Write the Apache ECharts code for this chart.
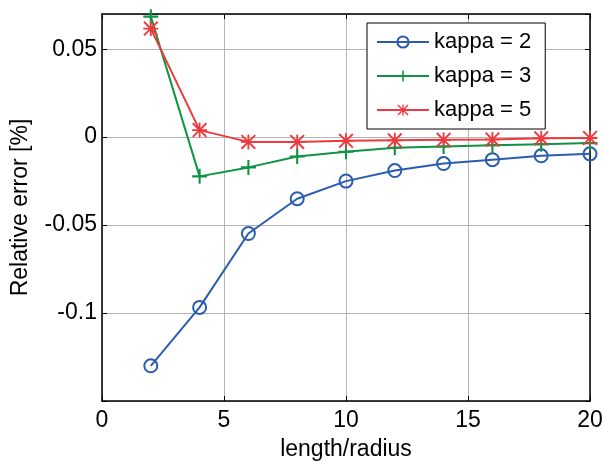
<!DOCTYPE html>
<html>
<head>
    <meta charset="utf-8">
    <title>Relative error</title>
    <script src="https://cdn.jsdelivr.net/npm/echarts@6/dist/echarts.min.js"></script>
</head>
<body style="margin:0; background:#fff;">
    <div id="main" style="width: 603px; height: 461px;"></div>
    <script>
        // 数据
        var lengthRadius = [2, 4, 6, 8, 10, 12, 14, 16, 18, 20]
        var kappa2 = [-0.130, -0.0968, -0.0548, -0.0350, -0.0250, -0.0190, -0.0150, -0.0128, -0.0106, -0.0095]
        var kappa3 = [0.0685, -0.0223, -0.0172, -0.0110, -0.0083, -0.0060, -0.0053, -0.0046, -0.0040, -0.0034]
        var kappa5 = [0.0617, 0.0040, -0.0027, -0.0027, -0.0021, -0.0018, -0.0015, -0.0013, -0.0007, -0.0005]
        var seriesNames = ['kappa = 2', 'kappa = 3', 'kappa = 5']
        var yTickLabels = ['-0.1', '-0.05', '0', '0.05']

        var font = 'Liberation Sans, Arial, sans-serif'
        var plusPath = 'path://M4.3,0H5.7V10H4.3Z M0,4.3H10V5.7H0Z'
        var starPath = 'path://M4.4,0H5.6V10H4.4Z M0,4.4H10V5.6H0Z M0.9,0L10,9.1L9.1,10L0,0.9Z M9.1,0L10,0.9L0.9,10L0,9.1Z'

        var pairs = function(ys) {
            return lengthRadius.map(function(x, i) { return [x, ys[i]] })
        }

        var yLabel = function(v) {
            var s = String(Math.round(v * 100) / 100)
            return yTickLabels.indexOf(s) >= 0 ? s : ''
        }

        var myChart = echarts.init(document.querySelector('#main'))
        var gridLine = {show: true, lineStyle: {color: '#b4b4b4', width: 1}}
        var boxLine = {onZero: false, lineStyle: {color: '#000', width: 1.5}}
        var tick = {inside: true, length: 5, lineStyle: {color: '#000'}}
        var option = {
            animation: false,
            textStyle: {fontFamily: font},
            grid: {left: 102, right: 13, top: 14, bottom: 60, outerBoundsMode: 'none', containLabel: false},
            legend: {
                data: seriesNames,
                orient: 'vertical',
                left: 367,
                top: 23,
                padding: [8, 14, 8, 9],
                itemGap: 12,
                itemWidth: 52,
                itemHeight: 14,
                backgroundColor: '#fff',
                borderColor: '#000',
                borderWidth: 1,
                textStyle: {fontSize: 22, color: '#000', fontFamily: font}
            },
            xAxis: [{
                type: 'value', min: 0, max: 20, interval: 5,
                name: 'length/radius', nameLocation: 'middle', nameGap: 37,
                nameTextStyle: {fontSize: 23, color: '#000'},
                axisLine: boxLine,
                axisTick: tick,
                axisLabel: {fontSize: 23, color: '#000', margin: 8},
                splitLine: gridLine
            }, {
                type: 'value', min: 0, max: 20, interval: 5, position: 'top',
                axisLine: boxLine,
                axisTick: tick,
                axisLabel: {show: false},
                splitLine: {show: false}
            }],
            yAxis: [{
                type: 'value', min: -0.15, max: 0.07, interval: 0.05,
                name: 'Relative error [%]', nameLocation: 'middle', nameGap: 70,
                nameTextStyle: {fontSize: 23, color: '#000'},
                axisLine: boxLine,
                axisTick: tick,
                axisLabel: {fontSize: 23, color: '#000', margin: 5, formatter: yLabel,
                    showMinLabel: true, showMaxLabel: false},
                splitLine: gridLine
            }, {
                type: 'value', min: -0.15, max: 0.07, interval: 0.05, position: 'right',
                axisLine: {show: true, onZero: false, lineStyle: {color: '#000', width: 1.5}},
                axisTick: {show: true, inside: true, length: 5, lineStyle: {color: '#000'}},
                axisLabel: {show: false},
                splitLine: {show: false}
            }],
            series: [{
                name: seriesNames[0], type: 'line', data: pairs(kappa2),
                symbol: 'circle', symbolSize: 13,
                color: '#2a5db0',
                lineStyle: {width: 2, color: '#2a5db0'},
                itemStyle: {color: 'transparent', borderColor: '#2a5db0', borderWidth: 2}
            }, {
                name: seriesNames[1], type: 'line', data: pairs(kappa3),
                symbol: plusPath, symbolSize: 15,
                color: '#0e9443',
                lineStyle: {width: 2, color: '#0e9443'},
                itemStyle: {color: '#0e9443'}
            }, {
                name: seriesNames[2], type: 'line', data: pairs(kappa5),
                symbol: starPath, symbolSize: 15,
                color: '#ee3a3f',
                lineStyle: {width: 2, color: '#ee3a3f'},
                itemStyle: {color: '#ee3a3f'}
            }]
        }
        myChart.setOption(option)
    </script>
</body>
</html>
